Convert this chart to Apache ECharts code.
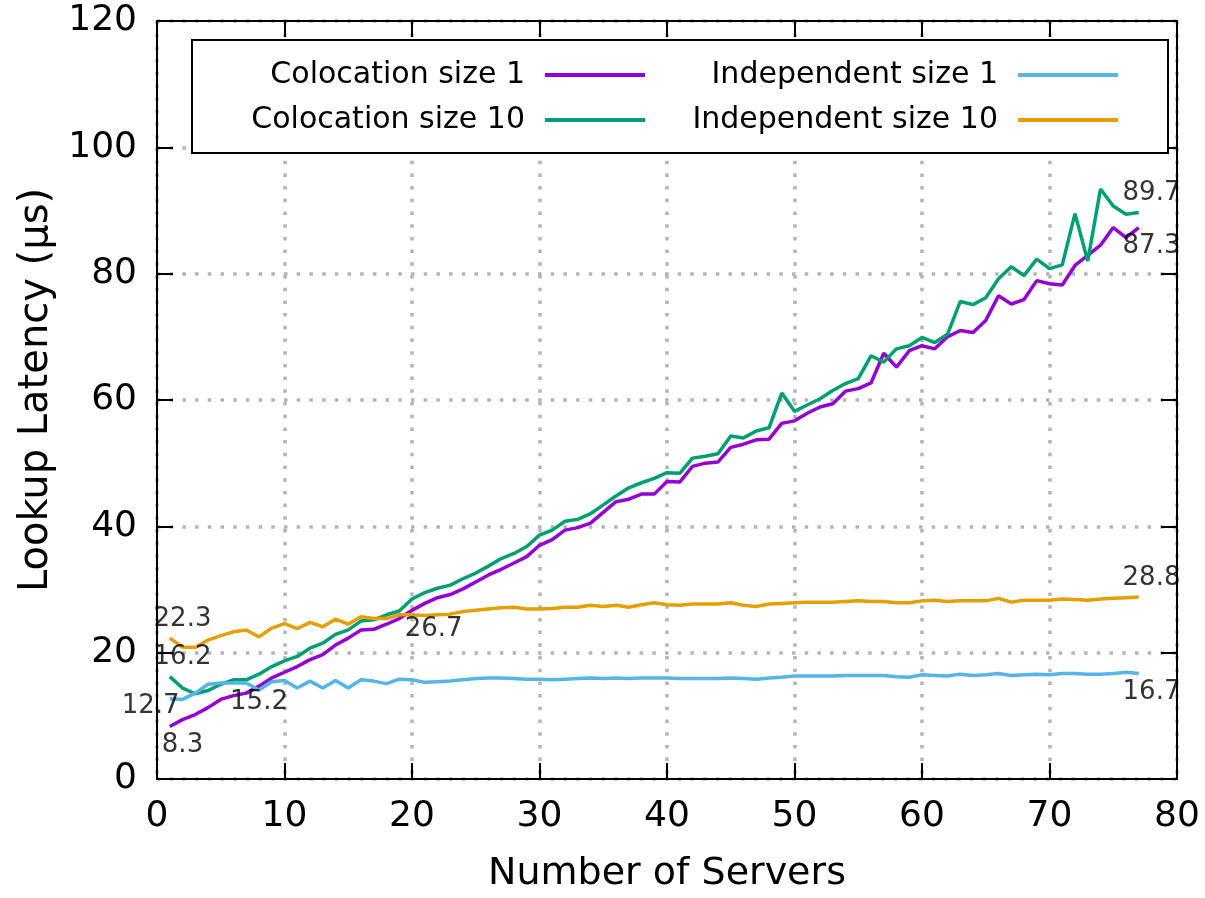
<!DOCTYPE html>
<html>
<head>
<meta charset="utf-8">
<script src="https://cdn.jsdelivr.net/npm/echarts@6/dist/echarts.min.js"></script>
<style>
html,body{margin:0;padding:0;background:#fff;}
#chart{width:1205px;height:898px;}
</style>
</head>
<body>
<div id="chart"></div>
<script>
var servers = [1,2,3,4,5,6,7,8,9,10,11,12,13,14,15,16,17,18,19,20,21,22,23,24,25,26,27,28,29,30,31,32,33,34,35,36,37,38,39,40,41,42,43,44,45,46,47,48,49,50,51,52,53,54,55,56,57,58,59,60,61,62,63,64,65,66,67,68,69,70,71,72,73,74,75,76,77];

var colocation1 = [8.3,9.4,10.2,11.3,12.6,13.2,13.6,14.7,16.0,16.9,17.8,18.9,19.7,21.2,22.3,23.6,23.7,24.5,25.4,26.7,27.8,28.7,29.2,30.1,31.2,32.3,33.2,34.2,35.2,37.0,37.9,39.4,39.8,40.5,42.2,43.9,44.3,45.1,45.1,47.1,47.0,49.5,50.0,50.2,52.5,53.0,53.7,53.8,56.3,56.7,57.9,58.9,59.4,61.4,61.8,62.7,67.4,65.2,67.8,68.6,68.1,70.0,71.0,70.7,72.6,76.5,75.2,75.9,78.9,78.4,78.2,81.3,82.9,84.5,87.3,85.7,87.3];

var colocation10 = [16.2,14.4,13.5,14.0,15.0,15.7,15.7,16.6,17.8,18.7,19.4,20.7,21.5,22.9,23.6,25.0,25.2,26.0,26.6,28.5,29.5,30.2,30.7,31.7,32.6,33.7,34.9,35.7,36.8,38.6,39.4,40.8,41.1,42.0,43.4,44.8,46.1,46.9,47.6,48.5,48.4,50.8,51.1,51.5,54.3,54.0,55.1,55.6,61.1,58.2,59.2,60.2,61.5,62.6,63.4,67.0,66.0,68.1,68.6,69.9,69.1,70.4,75.6,75.1,76.2,79.2,81.1,79.7,82.3,80.8,81.4,89.5,82.0,93.4,90.7,89.4,89.7];

var independent1 = [12.7,12.6,13.6,15.0,15.2,15.2,15.2,14.1,15.4,15.6,14.4,15.5,14.4,15.6,14.4,15.7,15.5,15.1,15.8,15.7,15.3,15.4,15.5,15.7,15.9,16.0,16.0,15.9,15.8,15.8,15.7,15.8,15.9,16.0,15.9,16.0,15.9,16.0,16.0,16.0,15.9,15.9,15.9,15.9,16.0,15.9,15.8,16.0,16.1,16.3,16.3,16.3,16.3,16.4,16.4,16.4,16.4,16.2,16.1,16.5,16.4,16.3,16.6,16.4,16.5,16.7,16.4,16.5,16.6,16.5,16.7,16.7,16.6,16.6,16.7,16.9,16.7];

var independent10 = [22.3,20.9,20.8,22.0,22.7,23.3,23.6,22.5,23.9,24.6,23.8,24.8,24.1,25.3,24.5,25.7,25.4,25.4,26.0,26.0,25.9,26.0,26.1,26.5,26.7,26.9,27.1,27.2,26.9,26.9,27.0,27.2,27.2,27.5,27.3,27.5,27.2,27.6,27.9,27.6,27.5,27.7,27.7,27.7,27.9,27.5,27.3,27.7,27.8,27.9,28.0,28.0,28.0,28.1,28.2,28.1,28.1,27.9,27.9,28.2,28.3,28.1,28.2,28.2,28.2,28.6,28.0,28.3,28.3,28.3,28.5,28.4,28.3,28.5,28.6,28.7,28.8];

var seriesNames = ['Colocation size 1','Colocation size 10','Independent size 1','Independent size 10'];
var seriesColors = ['#9400D3','#009E73','#56B4E9','#E69F00'];

var annText = ['22.3','16.2','12.7','8.3','15.2','26.7','89.7','87.3','28.8','16.7'];
var annX = [2,2,-0.5,2,8,21.7,78,78,78,78];
var annY = [25.3,19.2,11.5,5.3,12.2,23.7,92.7,84.3,31.8,13.7];

var xTicks = {min:0, max:80, interval:10};
var yTicks = {min:0, max:120, interval:20};

function pairs(ys){ return servers.map(function(x,i){ return [x, ys[i]]; }); }
var allValues = [colocation1, colocation10, independent1, independent10];

var FONT = 'DejaVu Sans';
var chart = echarts.init(document.getElementById('chart'), null, {renderer:'canvas'});

var gridLine = {show:true, lineStyle:{color:'#b4b4b4', width:3.5, type:[3.5,9.2]}};
var border = {show:true, onZero:false, lineStyle:{color:'#000', width:2}};
var tick = {show:true, inside:true, length:16, lineStyle:{color:'#000', width:2}};

var series = allValues.map(function(v,i){
  return {
    name: seriesNames[i], type:'line', data: pairs(v),
    showSymbol:false, symbol:'none', smooth:false,
    lineStyle:{color:seriesColors[i], width:3.5},
    itemStyle:{color:seriesColors[i]},
    z: 3
  };
});
series.push({
  type:'scatter', name:'annotations', symbolSize:0, clip:false, silent:true,
  data: annText.map(function(t,i){ return [annX[i], annY[i], t]; }),
  label:{show:true, position:'inside', formatter:function(p){return p.data[2];},
         color:'#000', fontSize:26, fontFamily:FONT, textBorderWidth:0},
  z: 6
});

function legendFor(name, right, top){
  return {
    data:[name], right:right, top:top, padding:0, align:'right',
    icon:'rect', itemWidth:100, itemHeight:4, selectedMode:false,
    textStyle:{fontSize:30, fontFamily:FONT, color:'#000', padding:[0,15,0,0], lineHeight:36},
    z: 20
  };
}

var option = {
  animation:false,
  backgroundColor:'#fff',
  textStyle:{fontFamily:FONT},
  grid:{left:157, right:28, top:21, bottom:113, containLabel:false},
  graphic:[{
    type:'rect', z:10, silent:true,
    shape:{x:192, y:40, width:976, height:113},
    style:{fill:'#fff', stroke:'#000', lineWidth:2}
  }],
  legend:[
    legendFor(seriesNames[0], 560, 57),
    legendFor(seriesNames[1], 560, 102),
    legendFor(seriesNames[2], 87, 57),
    legendFor(seriesNames[3], 87, 102)
  ],
  xAxis:[{
    type:'value', position:'bottom', min:xTicks.min, max:xTicks.max, interval:xTicks.interval,
    axisLine:border, axisTick:tick, splitLine:gridLine,
    axisLabel:{fontSize:36, color:'#000', margin:20, fontFamily:FONT},
    name:'Number of Servers', nameLocation:'middle', nameGap:76,
    nameTextStyle:{fontSize:38, color:'#000', fontFamily:FONT}
  },{
    type:'value', position:'top', min:xTicks.min, max:xTicks.max, interval:xTicks.interval,
    axisLine:border, axisTick:tick, splitLine:{show:false}, axisLabel:{show:false}
  }],
  yAxis:[{
    type:'value', position:'left', min:yTicks.min, max:yTicks.max, interval:yTicks.interval,
    axisLine:border, axisTick:tick, splitLine:gridLine,
    axisLabel:{fontSize:36, color:'#000', margin:20, fontFamily:FONT},
    name:'Lookup Latency (μs)', nameLocation:'middle', nameGap:100,
    nameTextStyle:{fontSize:40, color:'#000', fontFamily:FONT, padding:[0,0,0,20]}
  },{
    type:'value', position:'right', min:yTicks.min, max:yTicks.max, interval:yTicks.interval,
    axisLine:border, axisTick:tick, splitLine:{show:false}, axisLabel:{show:false}
  }],
  series: series
};
chart.setOption(option);
</script>
</body>
</html>
